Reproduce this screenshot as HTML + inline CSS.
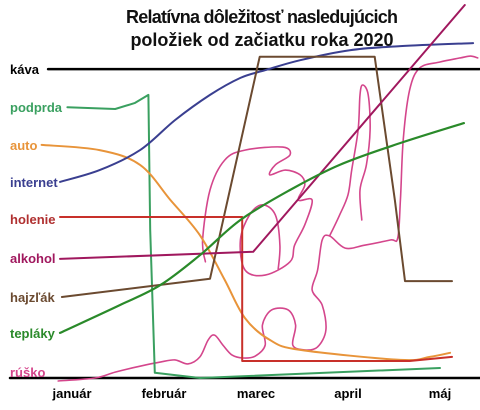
<!DOCTYPE html>
<html><head><meta charset="utf-8"><style>
html,body{margin:0;padding:0;background:#fff}
svg{display:block}
text{font-family:"Liberation Sans",sans-serif;font-weight:bold}
</style></head><body>
<svg id="chart" width="480" height="410" viewBox="0 0 480 410" xmlns="http://www.w3.org/2000/svg">
<text x="262" y="23" font-size="18" text-anchor="middle" fill="#111" textLength="272">Relatívna dôležitosť nasledujúcich</text>
<text x="262" y="46" font-size="18" text-anchor="middle" fill="#111">položiek od začiatku roka 2020</text>
<g id="marks"></g>
<g id="labels"></g>
</svg>
<script>
const months = ["január","február","marec","april","máj"];
const kava = [[-0.26,83.5],[4.43,83.5]];
const podprda = [[-0.05,73.2],[0.47,72.7],[0.68,74.3],[0.83,76.5],[0.85,40],[0.90,1.4],[1.39,0],[4.0,2.7]];
const auto = [[-0.33,63],[0.30,61.6],[0.74,57.6],[1.07,48.1],[1.39,38.6],[1.66,26.5],[1.88,16.2],[2.15,10.3],[2.48,7.6],[3.57,4.9],[3.89,5.7],[4.11,6.8]];
const internet = [[-0.13,53],[0.30,56.2],[0.74,61.6],[1.12,69.7],[1.5,76.5],[1.83,81.1],[2.1,83.2],[2.48,85.9],[3.02,88.6],[3.57,89.7],[4.36,90.5]];
const hajzlak = [[-0.11,21.9],[1.5,26.8],[2.04,86.8],[3.29,86.8],[3.51,48],[3.62,26.2],[4.13,26.2]];
const holenie = [[-0.13,43.5],[1.85,43.5],[1.85,4.6],[3.67,4.6],[4.13,5.7]];
const alkohol = [[-0.13,32.2],[1.97,34.1],[4.27,100.8]];
const teplaky = [[-0.13,12.2],[0.52,19.7],[0.96,25.1],[1.39,33.2],[1.83,42.7],[2.37,50.8],[2.91,57.6],[3.57,63.5],[4.26,68.9]];
const ruskoMain = [[-0.15,-0.8],[0.25,0],[0.47,1.6],[0.74,3.2],[0.96,4.3],[1.12,4.9],[1.26,3.8],[1.39,5.7],[1.48,10.3],[1.55,11.6],[1.64,8.9],[1.74,6.2],[1.86,5.4],[1.99,5.9],[2.10,8.9],[2.07,14.3],[2.17,18.4],[2.35,18.4],[2.43,14.3],[2.40,8.9],[2.53,7.6],[2.67,8.4],[2.76,13.0],[2.72,19.7],[2.61,23.8],[2.67,29.2],[2.72,37.3],[2.80,38.4],[2.97,35.1],[3.18,35.9],[3.46,37.3],[3.54,37.8],[3.57,48.1],[3.60,64.3],[3.67,77.8],[3.78,83.8],[4.00,85.4],[4.22,86.5],[4.33,87.0],[4.41,86.5]];
const ruskoLoop = [[1.45,31.4],[1.42,37.3],[1.50,50.8],[1.66,58.9],[1.88,61.6],[2.29,62.4],[2.37,60.3],[2.21,57.6],[2.15,54.9],[2.32,56.2],[2.48,54.9],[2.53,52.2],[2.46,48.1],[2.61,48.1],[2.53,41.4],[2.42,35.9],[2.37,31.4],[2.10,27.8],[1.88,29.2],[1.83,37.3],[1.93,44.1],[2.07,46.8],[2.21,44.1],[2.26,35.9],[2.24,29.2]];
const ruskoHand = [[2.80,38.4],[2.91,44.1],[3.00,49.5],[3.04,56.2],[3.11,67.0],[3.13,76.5],[3.16,79.2],[3.22,76.5],[3.24,67.0],[3.20,57.6],[3.13,50.8],[3.15,42.7]];
const seriesNames = ["káva","podprda","auto","internet","holenie","alkohol","hajzľák","tepláky","rúško"];
const labelValues = [83.5,73.2,63,53,43,32.5,21.9,12.2,1.6];

const xs = m => 72 + 92*m;
const ys = v => 378 - 3.7*v;
const NS = "http://www.w3.org/2000/svg";
const marks = document.getElementById('marks');
const labels = document.getElementById('labels');

function linePath(pts){return pts.map((p,i)=>(i?'L':'M')+xs(p[0]).toFixed(1)+' '+ys(p[1]).toFixed(1)).join(' ');}
function smoothPath(pts){
  const P = pts.map(p=>[xs(p[0]),ys(p[1])]);
  let d='M'+P[0][0].toFixed(1)+' '+P[0][1].toFixed(1);
  for(let i=0;i<P.length-1;i++){
    const p0=P[i-1]||P[i],p1=P[i],p2=P[i+1],p3=P[i+2]||p2;
    const c1=[p1[0]+(p2[0]-p0[0])/6,p1[1]+(p2[1]-p0[1])/6];
    const c2=[p2[0]-(p3[0]-p1[0])/6,p2[1]-(p3[1]-p1[1])/6];
    d+=' C'+c1.map(v=>v.toFixed(1)).join(' ')+' '+c2.map(v=>v.toFixed(1)).join(' ')+' '+p2[0].toFixed(1)+' '+p2[1].toFixed(1);
  }
  return d;
}
function addPath(d,color,w,name){
  const p=document.createElementNS(NS,'path');
  p.setAttribute('d',d);p.setAttribute('fill','none');p.setAttribute('stroke',color);
  p.setAttribute('stroke-width',w);p.setAttribute('stroke-linejoin','round');p.setAttribute('stroke-linecap','round');
  
  
  marks.appendChild(p);
}
addPath('M10 378 L480 378','#000',2.5,'x-axis');
addPath(smoothPath(ruskoMain),'#d4468c',1.6,'line-rusko');
addPath(smoothPath(ruskoLoop),'#d4468c',1.6,'line-rusko-loop');
addPath(smoothPath(ruskoHand),'#d4468c',1.6,'line-rusko-hand');
addPath(linePath(kava),'#000',2.5,'line-kava');
addPath(linePath(podprda),'#3aa060',2,'line-podprda');
addPath(smoothPath(auto),'#e8943a',2,'line-auto');
addPath(smoothPath(internet),'#3a3f90',2,'line-internet');
addPath(linePath(hajzlak),'#6b4a30',2,'line-hajzlak');
addPath(linePath(holenie),'#c8302a',2,'line-holenie');
addPath(linePath(alkohol),'#a0185e',2,'line-alkohol');
addPath(smoothPath(teplaky),'#2a8a2a',2.2,'line-teplaky');

const colors=["#000","#3aa060","#e8943a","#3a3f90","#b03030","#a0185e","#6b4a30","#2a8a2a","#d4468c"];
seriesNames.forEach((n,i)=>{
  const t=document.createElementNS(NS,'text');
  t.setAttribute('x',10);t.setAttribute('y',(ys(labelValues[i])+5).toFixed(1));
  t.setAttribute('font-size','13');t.setAttribute('fill',colors[i]);
  t.textContent=n;
  
  
  labels.appendChild(t);
});
months.forEach((m,i)=>{
  const t=document.createElementNS(NS,'text');
  t.setAttribute('x',xs(i).toFixed(1));t.setAttribute('y',398);
  t.setAttribute('font-size','13');t.setAttribute('fill','#000');t.setAttribute('text-anchor','middle');
  t.textContent=m;
  
  
  labels.appendChild(t);
});
</script>
</body></html>
